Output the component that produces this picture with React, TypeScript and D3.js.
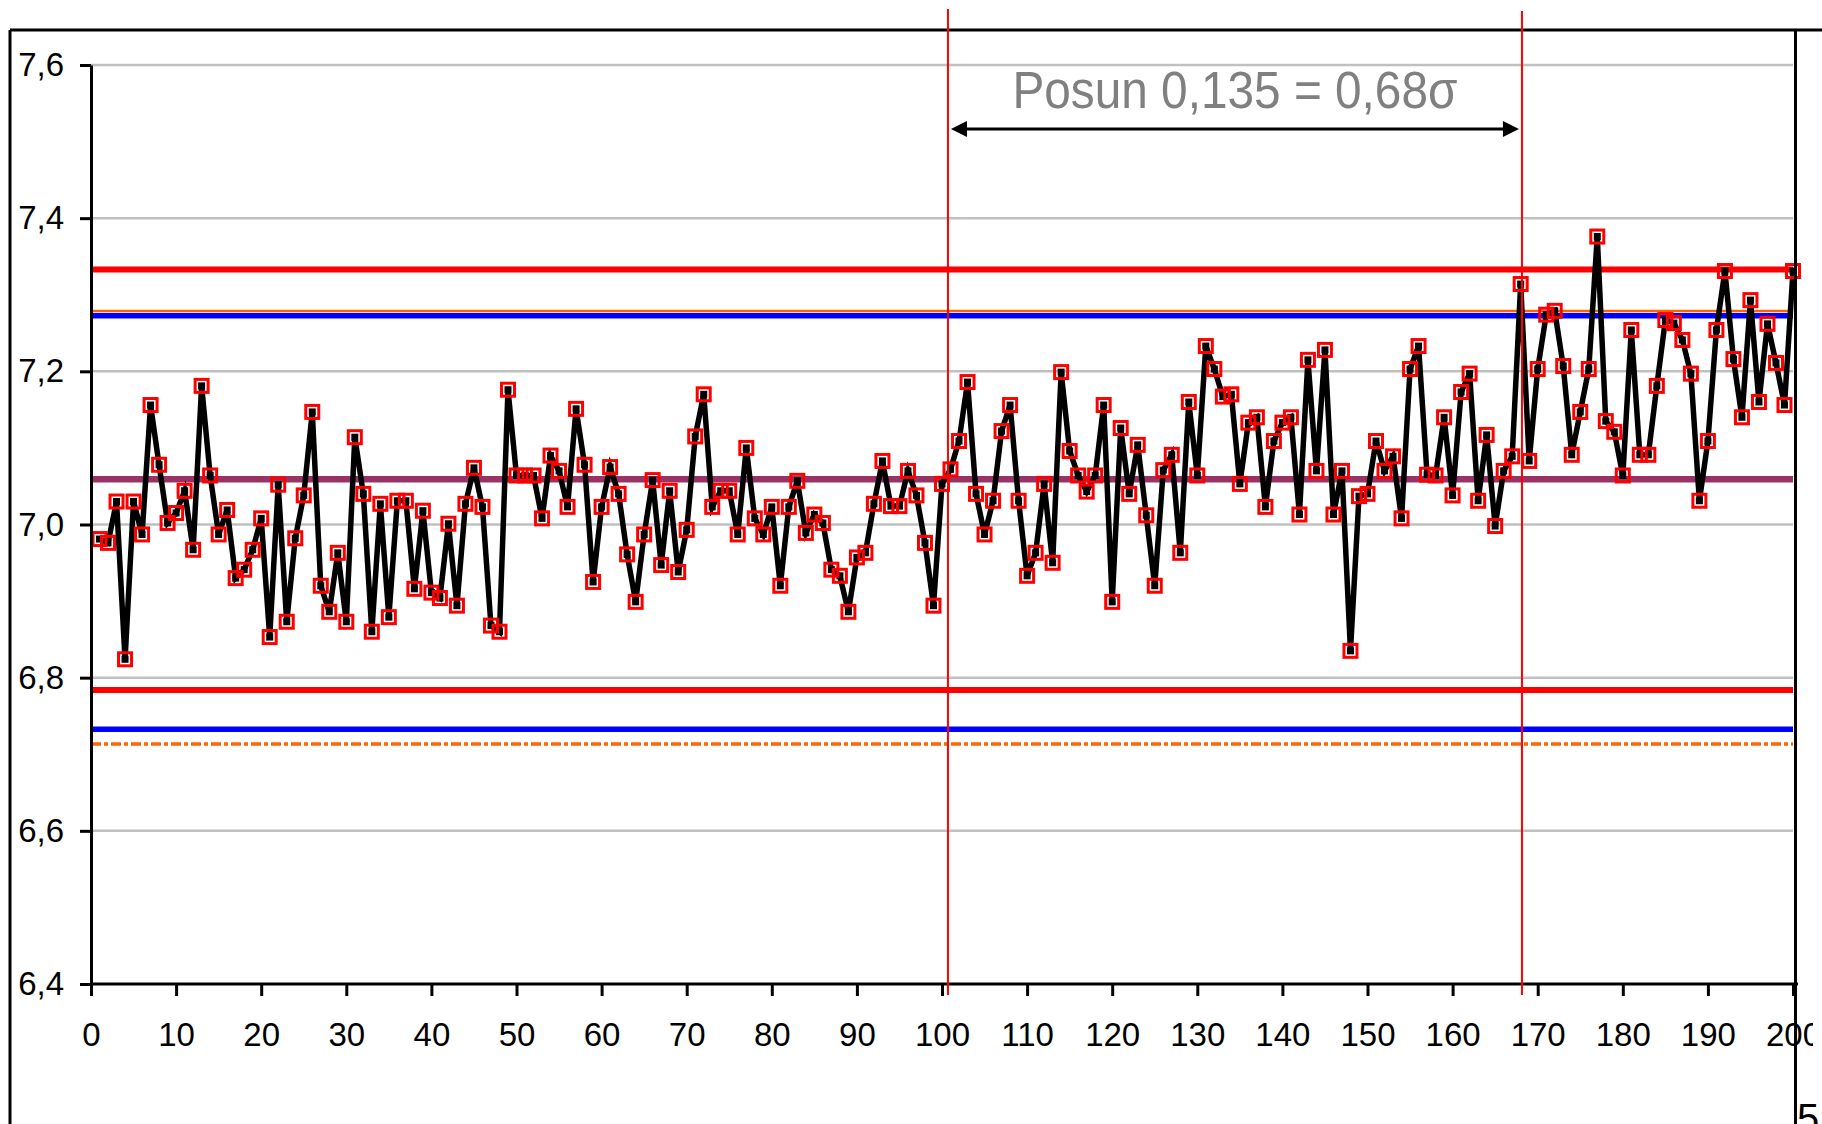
import React, { useEffect, useRef } from "react";
import * as d3 from "d3";

// ---- data (sample index 1..200) ----
const values: number[] = [
  6.981, 6.976, 7.030, 6.824, 7.030, 6.987, 7.156, 7.078, 7.002, 7.015,
  7.044, 6.967, 7.181, 7.064, 6.987, 7.019, 6.930, 6.941, 6.967, 7.008,
  6.853, 7.052, 6.873, 6.982, 7.038, 7.147, 6.920, 6.886, 6.963, 6.873,
  7.114, 7.040, 6.860, 7.027, 6.879, 7.031, 7.031, 6.916, 7.018, 6.911,
  6.904, 7.001, 6.894, 7.027, 7.074, 7.023, 6.868, 6.860, 7.176, 7.064,
  7.064, 7.064, 7.008, 7.090, 7.070, 7.023, 7.151, 7.078, 6.925, 7.023,
  7.075, 7.040, 6.961, 6.899, 6.987, 7.058, 6.947, 7.044, 6.938, 6.993,
  7.115, 7.170, 7.023, 7.044, 7.044, 6.987, 7.100, 7.008, 6.987, 7.023,
  6.920, 7.023, 7.057, 6.989, 7.013, 7.002, 6.941, 6.933, 6.886, 6.957,
  6.963, 7.027, 7.083, 7.024, 7.024, 7.070, 7.038, 6.976, 6.894, 7.053,
  7.072, 7.109, 7.186, 7.040, 6.987, 7.031, 7.122, 7.156, 7.031, 6.933,
  6.963, 7.053, 6.950, 7.199, 7.096, 7.064, 7.043, 7.064, 7.156, 6.899,
  7.126, 7.040, 7.104, 7.012, 6.920, 7.071, 7.091, 6.963, 7.160, 7.064,
  7.233, 7.203, 7.167, 7.170, 7.053, 7.133, 7.140, 7.023, 7.109, 7.133,
  7.140, 7.013, 7.215, 7.070, 7.228, 7.013, 7.070, 6.835, 7.037, 7.040,
  7.109, 7.070, 7.089, 7.008, 7.203, 7.233, 7.065, 7.064, 7.140, 7.038,
  7.173, 7.197, 7.031, 7.117, 6.998, 7.070, 7.089, 7.314, 7.083, 7.203,
  7.274, 7.279, 7.207, 7.091, 7.147, 7.203, 7.376, 7.135, 7.121, 7.064,
  7.254, 7.091, 7.091, 7.181, 7.267, 7.263, 7.241, 7.197, 7.031, 7.109,
  7.254, 7.331, 7.216, 7.140, 7.293, 7.160, 7.262, 7.211, 7.156, 7.331,
];

// horizontal reference lines
const redLimits = [7.333, 6.784];
const blueLimits = [7.2726, 6.7325];
const orangeUpper = 7.2788;
const orangeLower = 6.7133;
const centerLine = 7.059;

// shift markers (x positions) and annotation
const shiftMarks = [100.7, 168.15];
const annotationText = "Posun 0,135 = 0,68σ";
const pageNumber = "5";

const yTicks = [6.4, 6.6, 6.8, 7.0, 7.2, 7.4, 7.6];
const xTicks = d3.range(0, 201, 10);

const W = 1822;
const H = 1124;
const FONT = "'Liberation Sans', Arial, sans-serif";

export default function App() {
  const xAxisRef = useRef<SVGGElement>(null);
  const yAxisRef = useRef<SVGGElement>(null);

  const x = d3.scaleLinear().domain([0, 200]).range([91, 1793]);
  const y = d3.scaleLinear().domain([6.4, 7.6]).range([984, 65]);

  const pts = values.map((v, i) => ({ i: i + 1, v }));
  const line = d3
    .line<{ i: number; v: number }>()
    .x((d) => x(d.i))
    .y((d) => y(d.v));

  useEffect(() => {
    const fmt = (d: any) => d3.format(".1f")(d).replace(".", ",");
    const ya = d3
      .axisLeft(y)
      .tickValues(yTicks)
      .tickFormat(fmt)
      .tickSize(11)
      .tickSizeOuter(0)
      .tickPadding(16);
    const gy = d3.select(yAxisRef.current!);
    gy.call(ya as any);
    gy.selectAll("path,line").attr("stroke", "#000").attr("stroke-width", 3);
    gy.selectAll("text")
      .attr("font-family", FONT)
      .attr("font-size", 33)
      .attr("fill", "#000");

    const xa = d3
      .axisBottom(x)
      .tickValues(xTicks)
      .tickFormat(d3.format("d") as any)
      .tickSize(12)
      .tickSizeOuter(0)
      .tickPadding(27);
    const gx = d3.select(xAxisRef.current!);
    gx.call(xa as any);
    gx.select("path.domain").attr("d", `M${x(0)},0H1798`);
    gx.selectAll("path,line").attr("stroke", "#000").attr("stroke-width", 3);
    gx.selectAll("text")
      .attr("font-family", FONT)
      .attr("font-size", 33)
      .attr("fill", "#000");
  }, []);

  const x0 = x(0);
  const x1 = x(200);
  const ay = 129;
  const ax0 = x(shiftMarks[0]);
  const ax1 = x(shiftMarks[1]);

  return (
    <svg
      width={W}
      height={H}
      style={{ position: "absolute", left: 0, top: 0, background: "#fff" }}
    >
      <defs>
        <clipPath id="chartClip">
          <rect x={0} y={0} width={1813} height={H} />
        </clipPath>
      </defs>
      <rect x={0} y={0} width={W} height={H} fill="#fff" />

      {/* gridlines */}
      {yTicks.slice(1).map((t) => (
        <line key={t} x1={x0} x2={x1} y1={y(t)} y2={y(t)} stroke="#C0C0C0" strokeWidth={2.5} />
      ))}

      {/* reference lines */}
      <line x1={x0} x2={x1} y1={y(orangeLower)} y2={y(orangeLower)} stroke="#FF6600" strokeWidth={3.5} strokeDasharray="10 3 4 3" />
      {blueLimits.map((v) => (
        <line key={"b" + v} x1={x0} x2={x1} y1={y(v)} y2={y(v)} stroke="#0000FF" strokeWidth={5.5} />
      ))}
      <line x1={x0} x2={x1} y1={y(orangeUpper)} y2={y(orangeUpper)} stroke="#FF6600" strokeWidth={2.5} />
      {redLimits.map((v) => (
        <line key={"r" + v} x1={x0} x2={x1} y1={y(v)} y2={y(v)} stroke="#FF0000" strokeWidth={6} />
      ))}
      <line x1={x0} x2={x1} y1={y(centerLine)} y2={y(centerLine)} stroke="#993366" strokeWidth={6.5} />

      {/* data line */}
      <path d={line(pts) || ""} fill="none" stroke="#000" strokeWidth={5.5} strokeLinejoin="miter" />
      {pts.map((d) => (
        <rect key={"k" + d.i} x={x(d.i) - 3.5} y={y(d.v) - 3.5} width={7} height={7} fill="#000" />
      ))}
      {pts.map((d) => (
        <rect
          key={"s" + d.i}
          x={x(d.i) - 6.5}
          y={y(d.v) - 6.5}
          width={13}
          height={13}
          fill="none"
          stroke="#FF0000"
          strokeWidth={3}
        />
      ))}

      {/* axes */}
      <g ref={yAxisRef} transform={`translate(${x0},0)`} />
      <g clipPath="url(#chartClip)">
        <g ref={xAxisRef} transform={`translate(0,${y(6.4)})`} />
      </g>

      {/* frame */}
      <line x1={10} x2={W} y1={30} y2={30} stroke="#000" strokeWidth={3} />
      <line x1={10} x2={10} y1={30} y2={H} stroke="#000" strokeWidth={3} />
      <line x1={1795.5} x2={1795.5} y1={30} y2={H} stroke="#000" strokeWidth={3} />

      {/* shift markers */}
      <line x1={x(shiftMarks[0])} x2={x(shiftMarks[0])} y1={9} y2={995} stroke="#FF0000" strokeWidth={2} />
      <line x1={x(shiftMarks[1])} x2={x(shiftMarks[1])} y1={11} y2={995} stroke="#FF0000" strokeWidth={2} />

      {/* double arrow */}
      <line x1={ax0 + 10} x2={ax1 - 10} y1={ay} y2={ay} stroke="#000" strokeWidth={3} />
      <path d={`M${ax0 + 3},${ay} L${ax0 + 19},${ay - 8} L${ax0 + 19},${ay + 8} Z`} fill="#000" />
      <path d={`M${ax1 - 3},${ay} L${ax1 - 19},${ay - 8} L${ax1 - 19},${ay + 8} Z`} fill="#000" />
      <text
        x={(ax0 + ax1) / 2}
        y={108}
        textAnchor="middle"
        fontFamily={FONT}
        fontSize={51}
        textLength={445}
        lengthAdjust="spacingAndGlyphs"
        fill="#808080"
      >
        {annotationText}
      </text>

      <text x={1797} y={1132} fontFamily={FONT} fontSize={40} fill="#000">
        {pageNumber}
      </text>
    </svg>
  );
}
